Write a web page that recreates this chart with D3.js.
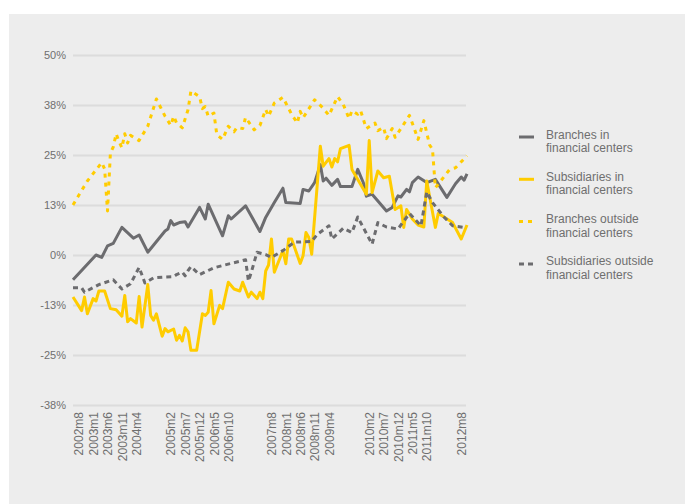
<!DOCTYPE html>
<html>
<head>
<meta charset="utf-8">
<script src="https://cdn.jsdelivr.net/npm/d3@7/dist/d3.min.js"></script>
<style>
  body { margin: 0; background: #fff; }
  text { font-family: "Liberation Sans", Arial, sans-serif; }
</style>
</head>
<body>
<svg id="chart"></svg>
<script>
// x positions are period index (0 = first period on the chart)
const tickIdx = [2, 7, 12, 17, 22, 34, 39, 44, 49, 54, 69, 74, 79, 84, 89, 103, 108, 113, 118, 123, 135];
const tickLabels = ['2002m8', '2003m1', '2003m6', '2003m11', '2004m4', '2005m2', '2005m7', '2005m12', '2006m5', '2006m10',
  '2007m8', '2008m1', '2008m6', '2008m11', '2009m4', '2010m2', '2010m7', '2010m12', '2011m5', '2011m10', '2012m8'];
const yTicks = [-37.5, -25, -12.5, 0, 12.5, 25, 37.5, 50];

const seriesNames = ['Branches in financial centers', 'Subsidiaries in financial centers',
  'Branches outside financial centers', 'Subsidiaries outside financial centers'];

const branchesIn = [[0,-6.2],[8,0.0],[10,-0.6],[12,2.3],[14,2.9],[17,6.9],[21,4.2],[23,5.0],[26,0.7],[32,6.0],[33,6.5],
  [34,8.6],[35,7.5],[37,8.1],[39,8.3],[40,7.0],[44,11.9],[46,9.0],[47,12.7],[52,4.8],[54,9.8],[55,9.0],[60,12.3],[65,5.9],
  [67,9.4],[70,13.1],[73,16.7],[74,13.1],[79,12.9],[80,16.4],[82,16.0],[84,18.1],[86,22.6],[87,18.5],[88,19.2],[90,17.4],
  [92,18.9],[93,17.1],[97,17.1],[99,21.4],[101,18.0],[102,14.7],[104,15.2],[109,11.0],[111,11.9],[113,14.8],[114,14.5],
  [116,16.4],[117,15.8],[118,18.1],[120,19.5],[123,18.1],[126,18.9],[130,14.4],[133,17.8],[135,19.5],[136,18.7],[137,20.3]];

const subsIn = [[0,-10.5],[3,-13.9],[4,-10.5],[5,-14.7],[7,-10.9],[8,-11.5],[9,-9.0],[11,-9.0],[13,-13.4],[15,-13.7],
  [17,-15.3],[18,-10.1],[19,-16.7],[20,-15.9],[22,-17.0],[23,-10.4],[24,-18.0],[26,-7.4],[27,-15.1],[28,-16.3],[29,-14.7],
  [31,-20.3],[32,-18.4],[33,-19.2],[35,-18.5],[36,-21.3],[37,-20.1],[38,-21.5],[39,-18.2],[40,-19.2],[41,-23.8],[43,-23.8],
  [45,-14.7],[46,-15.1],[47,-14.3],[48,-8.9],[49,-17.2],[51,-12.6],[52,-13.4],[54,-6.8],[56,-8.5],[58,-9.0],[59,-6.8],
  [61,-10.5],[62,-9.3],[64,-10.9],[65,-9.3],[66,-10.9],[67,-4.0],[68,-2.5],[69,4.0],[70,-4.3],[73,1.1],[74,-2.2],[75,4.0],
  [76,4.0],[79,-2.1],[80,-0.2],[81,5.6],[82,4.4],[83,0.2],[86,27.2],[87,22.2],[89,24.1],[90,22.0],[91,24.1],[92,23.3],
  [93,26.6],[96,27.4],[97,21.4],[102,15.2],[103,28.6],[104,15.6],[106,21.0],[108,19.3],[110,19.7],[112,11.4],[114,12.3],
  [115,6.9],[116,11.4],[118,9.0],[120,7.5],[122,7.0],[123,18.5],[126,6.9],[127,10.4],[129,9.5],[132,8.1],[135,4.0],[137,7.5]];

const branchesOut = [[0,12.5],[5,18.5],[10,23.1],[11,21.5],[12,11.0],[13,25.5],[14,27.0],[15,30.3],[16,28.4],[17,26.8],
  [18,30.3],[19,28.0],[20,29.9],[23,28.6],[26,32.2],[29,39.0],[32,34.7],[34,32.4],[35,34.7],[36,33.0],[38,31.8],[40,36.3],
  [41,41.0],[44,39.6],[45,36.6],[46,37.1],[47,34.7],[49,35.5],[50,30.1],[52,28.9],[54,32.2],[56,30.8],[57,31.9],[59,31.6],
  [60,34.4],[63,31.3],[65,32.4],[67,36.4],[68,34.7],[70,38.0],[73,39.4],[76,35.2],[78,33.0],[79,35.9],[80,34.3],[84,38.8],
  [87,36.7],[89,34.9],[92,39.6],[94,37.6],[96,34.1],[97,36.1],[99,35.2],[100,36.1],[102,31.6],[105,33.0],[106,31.1],
  [108,31.9],[109,29.1],[111,31.6],[112,29.4],[117,34.9],[120,28.9],[122,33.6],[124,27.5],[125,26.4],[126,16.8],[131,21.4],
  [133,21.8],[137,24.8]];

const subsOut = [[0,-8.2],[3,-8.2],[4,-9.3],[9,-7.4],[14,-6.2],[17,-8.5],[20,-7.2],[23,-3.1],[25,-7.0],[28,-5.7],[32,-5.5],
  [35,-5.4],[36,-4.9],[38,-4.3],[39,-5.2],[40,-3.9],[41,-2.9],[44,-4.9],[49,-3.2],[55,-2.1],[60,-1.2],[61,-6.5],[62,-4.3],
  [64,0.7],[67,0.1],[69,-0.6],[73,1.1],[77,3.2],[83,3.4],[85,5.2],[89,7.3],[90,4.0],[94,6.7],[97,5.6],[99,9.5],[104,2.7],
  [106,8.1],[109,7.0],[113,6.5],[117,10.4],[121,7.3],[123,15.8],[125,13.1],[129,9.5],[132,7.3],[136,6.9]];

const width = 685, height = 504;
const plot = {left: 73, right: 466, top: 55, bottom: 405};
const gray = '#6c6c6f', yellow = '#ffcc00', textColor = '#6f6f6f';

const series = [
  {name: seriesNames[0], values: branchesIn, color: gray, dash: null},
  {name: seriesNames[1], values: subsIn, color: yellow, dash: null},
  {name: seriesNames[2], values: branchesOut, color: yellow, dash: '4,5'},
  {name: seriesNames[3], values: subsOut, color: gray, dash: '5,4'}
];

const svg = d3.select('#chart')
  .attr('width', width)
  .attr('height', height);

svg.append('rect')
  .attr('x', 9).attr('y', 14)
  .attr('width', width - 9).attr('height', height - 14)
  .attr('fill', '#ededed');

const x = d3.scaleLinear().domain([0, 137]).range([plot.left, 467]);
const y = d3.scaleLinear().domain([-37.5, 50]).range([plot.bottom, plot.top]);

const fmt = v => (v < 0 ? '-' : '') + Math.round(Math.abs(v)) + '%';

// gridlines + y labels
const yAxis = svg.append('g')
  .attr('transform', `translate(${plot.left},0)`)
  .call(d3.axisLeft(y).tickValues(yTicks).tickFormat(fmt).tickSize(-(plot.right - plot.left)).tickPadding(7));
yAxis.select('.domain').remove();
yAxis.selectAll('.tick line').attr('stroke', '#dcdcdc').attr('stroke-width', 2);
yAxis.selectAll('.tick text')
  .attr('fill', textColor)
  .style('font-size', '11px');

// x labels, rotated
const xAxis = svg.append('g')
  .attr('transform', `translate(0,${plot.bottom})`)
  .call(d3.axisBottom(x).tickValues(tickIdx).tickFormat((d, i) => tickLabels[i]).tickSize(0));
xAxis.select('.domain').remove();
xAxis.selectAll('.tick text')
  .attr('fill', textColor)
  .style('font-size', '12px')
  .attr('text-anchor', 'end')
  .attr('transform', 'rotate(-90)')
  .attr('x', -7)
  .attr('y', 0)
  .attr('dy', '0.35em');

const line = d3.line()
  .x(d => x(d[0]))
  .y(d => y(d[1]));

svg.selectAll('path.series')
  .data(series)
  .join('path')
  .attr('class', 'series')
  .attr('d', d => line(d.values))
  .attr('fill', 'none')
  .attr('stroke', d => d.color)
  .attr('stroke-width', 3)
  .attr('stroke-linejoin', 'round')
  .attr('stroke-dasharray', d => d.dash);

// legend
const legend = svg.append('g').attr('transform', 'translate(519,137)');
const item = legend.selectAll('g')
  .data(series)
  .join('g')
  .attr('transform', (d, i) => `translate(0,${i * 42.3})`);

item.append('line')
  .attr('x1', 0).attr('x2', 15)
  .attr('stroke', d => d.color)
  .attr('stroke-width', 3)
  .attr('stroke-dasharray', d => d.dash);

item.append('text')
  .attr('x', 27)
  .attr('y', 1.5)
  .attr('fill', textColor)
  .style('font-size', '12px')
  .selectAll('tspan')
  .data(d => d.name.replace(' financial', '\nfinancial').split('\n'))
  .join('tspan')
  .attr('x', 27)
  .attr('dy', (d, i) => i ? 13.5 : 0)
  .text(d => d);
</script>
</body>
</html>
